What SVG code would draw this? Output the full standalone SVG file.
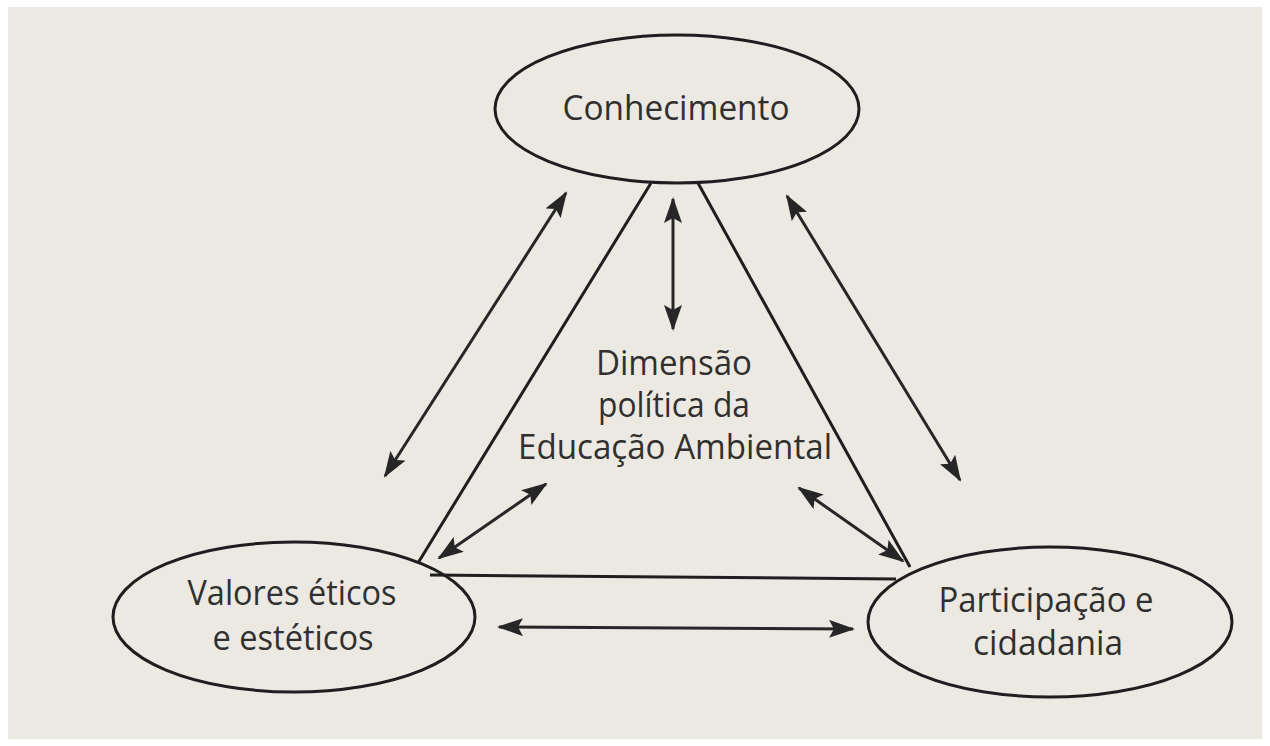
<svg xmlns="http://www.w3.org/2000/svg" width="1270" height="746" viewBox="0 0 1270 746">
<style>
.node{fill:none;stroke:#1e1e1e;stroke-width:3}
.lbl{font-family:"Open Sans","Noto Sans",sans-serif;font-size:34px;fill:#303030;text-anchor:middle}
.ln{stroke:#1e1e1e;stroke-width:3;fill:none}
.arr{stroke:#262626;stroke-width:3;fill:none;marker-start:url(#ah);marker-end:url(#ah)}
</style>
<defs>
<marker id="ah" viewBox="0 0 26 18" refX="24" refY="9" markerWidth="26" markerHeight="18" markerUnits="userSpaceOnUse" orient="auto-start-reverse">
<path d="M0,0 L26,9 L0,18 L5,9 Z" fill="#262626"/>
</marker>
</defs>
<rect x="0" y="0" width="1270" height="746" fill="#ffffff"/>
<rect x="8" y="7" width="1254" height="732" fill="#ece9e2"/>
<g id="connectors">
<line class="ln" x1="651" y1="183" x2="418" y2="563"/>
<line class="ln" x1="698" y1="183" x2="910" y2="567"/>
<line class="ln" x1="430" y1="575" x2="896" y2="579"/>
<line class="arr" x1="673" y1="199" x2="673" y2="329"/>
<line class="arr" x1="566" y1="193" x2="385" y2="476"/>
<line class="arr" x1="787" y1="196" x2="960" y2="480"/>
<line class="arr" x1="546" y1="484" x2="439" y2="558"/>
<line class="arr" x1="799" y1="488" x2="903" y2="561"/>
<line class="arr" x1="499" y1="627" x2="853" y2="629"/>
</g>
<g id="center">
<text class="lbl" x="674" y="375" textLength="156" lengthAdjust="spacingAndGlyphs">Dimensão</text>
<text class="lbl" x="674" y="417" textLength="152" lengthAdjust="spacingAndGlyphs">política da</text>
<text class="lbl" x="675" y="459" textLength="314" lengthAdjust="spacingAndGlyphs">Educação Ambiental</text>
</g>
<g id="conhecimento">
<ellipse class="node" cx="677" cy="109" rx="182" ry="74"/>
<text class="lbl" x="676" y="120" textLength="227" lengthAdjust="spacingAndGlyphs">Conhecimento</text>
</g>
<g id="valores">
<ellipse class="node" cx="294" cy="617" rx="181" ry="75"/>
<text class="lbl" x="292" y="605" textLength="209" lengthAdjust="spacingAndGlyphs">Valores éticos</text>
<text class="lbl" x="293" y="650" textLength="161" lengthAdjust="spacingAndGlyphs">e estéticos</text>
</g>
<g id="participacao">
<ellipse class="node" cx="1050" cy="622" rx="182" ry="75"/>
<text class="lbl" x="1046" y="612" textLength="215" lengthAdjust="spacingAndGlyphs">Participação e</text>
<text class="lbl" x="1048" y="655" textLength="150" lengthAdjust="spacingAndGlyphs">cidadania</text>
</g>
</svg>
